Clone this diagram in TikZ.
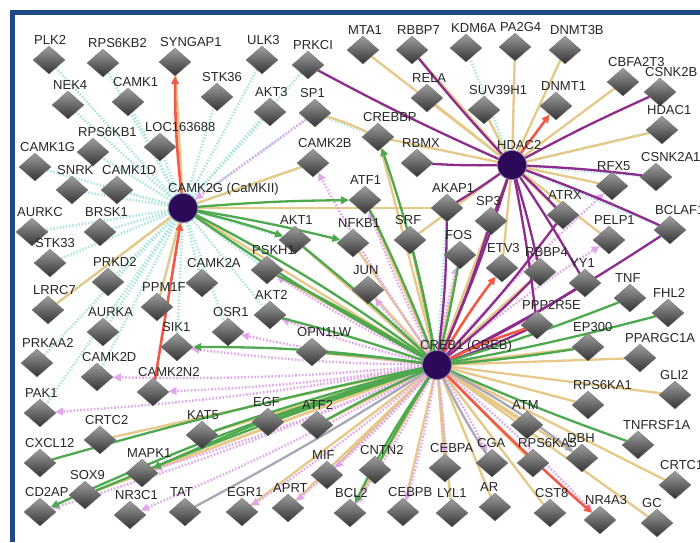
\documentclass[tikz,border=0pt]{standalone}
\usepackage{fontspec}
\setmainfont{Liberation Sans}
\usetikzlibrary{shapes.geometric,arrows.meta,backgrounds}
\definecolor{framec}{HTML}{1F4A86}
\definecolor{simc}{HTML}{A6E3DA}
\definecolor{rxc}{HTML}{E2A6EC}
\definecolor{tanc}{HTML}{E6C888}
\definecolor{actc}{HTML}{4EA84E}
\definecolor{pplc}{HTML}{8E2C8E}
\definecolor{rdc}{HTML}{F05A46}
\definecolor{gryc}{HTML}{A8A8B8}
\definecolor{hubc}{HTML}{2C0A58}
\tikzset{gene/.style={diamond, minimum width=32pt, minimum height=28pt, inner sep=0pt, top color=black!38, bottom color=black!80, draw=black!55, line width=0.3pt}}
\tikzset{hub/.style={circle, minimum size=29pt, inner sep=0pt, fill=hubc, draw=hubc!55!white, line width=0.6pt}}
\tikzset{lbl/.style={anchor=base west, inner sep=0pt, text=black!85, font=\fontsize{13}{13}\selectfont}}
\tikzset{
		% interaction types
		tip/.style={-{Triangle[length=8pt,width=7.5pt]}},
		sim/.style={draw=simc, line width=2.6pt, dash pattern=on 1.3pt off 1.9pt},
		rx/.style={draw=rxc, line width=2.4pt, dash pattern=on 1.6pt off 1.8pt, tip},
		tx/.style={draw=tanc, line width=2.3pt},
		ppl/.style={draw=pplc, line width=2.3pt},
		act/.style={draw=actc, line width=2.3pt},
		rdl/.style={draw=rdc, line width=2.6pt},
		gryl/.style={draw=gryc, line width=2.3pt},
	}

\begin{document}
\begin{tikzpicture}[x=1pt,y=-1pt]
		\useasboundingbox (0,0) rectangle (700,542);
		
		\foreach \n/\x/\y in {PLK2/49/60, RPS6KB2/103/63, SYNGAP1/175/62, ULK3/262/60, PRKCI/308/65,
			MTA1/363/50, RBBP7/412/50, KDM6A/466/48, PA2G4/515/47, DNMT3B/565/50,
			NEK4/68/105, CAMK1/128/102, STK36/217/97, AKT3/270/112, SP1/315/113, RELA/427/98,
			SUV39H1/484/110, DNMT1/556/106, CBFA2T3/623/82, CSNK2B/660/92, HDAC1/662/130,
			RPS6KB1/93/152, LOC163688/160/147, CAMK1G/35/167, SNRK/72/190, CAMK1D/117/190,
			CAMK2B/313/163, CREBBP/378/137, RBMX/417/163, RFX5/612/186, CSNK2A1/656/177,
			AURKC/32/232, BRSK1/100/232, ATF1/365/200, AKAP1/447/208, SP3/491/221, ATRX/563/215,
			BCLAF1/670/230, PELP1/609/240, STK33/50/263, AKT1/295/240, NFKB1/353/243, SRF/410/240,
			FOS/460/255, ETV3/502/268, RBBP4/540/272, YY1/585/283, PRKD2/108/282, CAMK2A/202/283,
			PSKH1/267/270, JUN/368/290, TNF/630/298, FHL2/668/313, LRRC7/48/310, PPM1F/157/307,
			AKT2/270/315, PPP2R5E/537/325, AURKA/103/332, OSR1/228/332, SIK1/177/347,
			OPN1LW/312/352, EP300/588/347, PPARGC1A/640/358, PRKAA2/37/363, CAMK2D/97/377,
			CAMK2N2/153/392, GLI2/675/395, RPS6KA1/588/405, PAK1/40/413, EGF/268/422, ATF2/317/425,
			KAT5/202/435, CRTC2/100/440, ATM/527/425, TNFRSF1A/638/445, CXCL12/40/463, MAPK1/142/473,
			MIF/327/475, CNTN2/375/470, CEBPA/445/468, CGA/492/463, RPS6KA5/533/463, DBH/582/458,
			CRTC1/675/485, SOX9/85/495, CD2AP/40/512, NR3C1/130/515, TAT/185/512, EGR1/242/512,
			APRT/288/508, BCL2/350/513, CEBPB/403/512, LYL1/452/513, AR/495/507, CST8/550/513,
			NR4A3/600/520, GC/657/523}{
			\node[gene] (\n) at (\x,\y) {};
			\node[lbl] at (\x-15,\y-16) {\n};
		}
		
		\node[hub] (CAMKII) at (183,208) {};
		\node[lbl] at (168,192) {CAMK2G (CaMKII)};
		\node[hub] (HDAC2) at (512,165) {};
		\node[lbl] at (497,149) {HDAC2};
		\node[hub] (CREB1) at (437,365) {};
		\node[lbl] at (420,349) {CREB1 (CREB)};
		
		\begin{scope}[on background layer]
			\fill[white] (0,0) rectangle (700,542);
			
			\foreach \b in {PLK2,RPS6KB2,NEK4,CAMK1,STK36,RPS6KB1,LOC163688,CAMK1G,SNRK,CAMK1D,AURKC,
				BRSK1,STK33,PRKD2,LRRC7,AURKA,PRKAA2,PAK1,CAMK2D,CAMK2A,PPM1F,SIK1,OSR1,AKT2,PSKH1,
				AKT3,ULK3,CAMK2B,SP1,CAMK2N2,SYNGAP1,AKT1,PRKCI}
				\draw[sim] (CAMKII) -- (\b);
			\foreach \a/\b in {HDAC2/KDM6A,HDAC2/HDAC1,HDAC2/CSNK2A1,HDAC2/SRF,HDAC2/SUV39H1,HDAC2/BCLAF1,
				CREB1/AKAP1,CREB1/LYL1,CREB1/CNTN2,CREB1/SP3,SP1/CREBBP}
				\draw[sim] (\a) -- (\b);
			
			\foreach \b in {SYNGAP1,CAMK2B,AKAP1,PPM1F,LRRC7}
				\draw[tx] (CAMKII) -- (\b);
			\foreach \b in {MTA1,RBBP7,RELA,PA2G4,DNMT3B,CBFA2T3,HDAC1,SUV39H1,CREBBP,RFX5,PELP1,ETV3,SRF,ATRX}
				\draw[tx] (HDAC2) -- (\b);
			\draw[tx] (SP1) to[bend left=4] (CREBBP);
			\foreach \b in {ATF1,NFKB1,JUN,SRF,FOS,SP3,CREBBP,AKT1,PSKH1,OPN1LW,EGF,ATF2,KAT5,CRTC2,MAPK1,
				SOX9,EGR1,APRT,MIF,BCL2,CEBPB,CEBPA,LYL1,AR,CST8,ATM,RPS6KA5,DBH,GC,CRTC1,RPS6KA1,GLI2,
				EP300,PPARGC1A,HDAC2,RBBP4,CAMKII}
				\draw[tx] (CREB1) -- (\b);
			
			\foreach \b in {PSKH1,OSR1,SIK1,CAMK2D,CAMK2N2,PAK1,CD2AP,NR3C1,EGR1,APRT,MIF,BCL2,CEBPB,CGA,
				NR4A3,RFX5,PELP1,JUN,ATF1,FOS,MAPK1,AKT2,CAMK2B,CEBPA}
				\draw[rx] (CREB1) to[bend left=3] (\b);
			\draw[rx] (SP1) -- (CAMKII);
			
			\foreach \b in {PRKCI,RBBP7,RBMX,CSNK2B,CSNK2A1,ATRX,BCLAF1,RBBP4,YY1,PPP2R5E,AKAP1,SP3}
				\draw[ppl] (HDAC2) to[bend left=2] (\b);
			\foreach \b in {HDAC2,ATRX,BCLAF1,YY1,SP3,RBBP4,AKAP1,PPP2R5E}
				\draw[ppl] (CREB1) to[bend right=3] (\b);
			
			\foreach \b in {AKT1,AKT2,OPN1LW,FOS,SRF,ATF1,KAT5,CXCL12,EGF,ATF2,CNTN2,TNFRSF1A,FHL2,TNF,
				EP300,SOX9,PSKH1}
				\draw[act] (CREB1) to[bend right=2] (\b);
			\draw[act] (CREB1) to[bend left=3] (CAMKII);
			\draw[act] (CREB1) to[bend right=4] (CAMKII);
			\foreach \b in {ATF1,AKT1,NFKB1}
				\draw[act,tip] (CAMKII) to[bend left=2] (\b);
			\foreach \b in {CREBBP,BCL2,MAPK1,CD2AP,SIK1}
				\draw[act,tip] (CREB1) to[bend right=4] (\b);
			
			\draw[rdl,tip] (CAMKII) to[bend left=3] (SYNGAP1);
			\draw[rdl,tip] (CAMK2N2) -- (CAMKII);
			\draw[rdl,tip] (HDAC2) -- (DNMT1);
			\draw[rdl,tip] (CREB1) to[bend left=3] (ETV3);
			\draw[rdl,tip] (CREB1) to[bend right=2] (NR4A3);
			\draw[rdl] (CREB1) to[bend left=4] (PPP2R5E);
			
			\draw[gryl] (CREB1) to[bend left=2] (TAT);
			\draw[gryl] (CREB1) to[bend right=3] (CGA);
			\draw[gryl,tip] (CREB1) to[bend left=4] (DBH);
			
			\draw[line width=5pt, framec] (12.5,542) -- (12.5,12.5) -- (700,12.5);
		\end{scope}
		
\end{tikzpicture}
\end{document}
